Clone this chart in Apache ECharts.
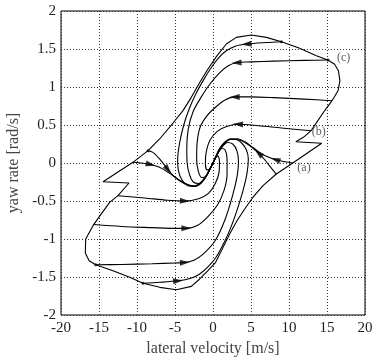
<!DOCTYPE html>
<html><head><meta charset="utf-8">
<script src="https://cdn.jsdelivr.net/npm/echarts@6/dist/echarts.min.js"></script>
<style>html,body{margin:0;padding:0;background:#fff}#c{width:373px;height:358px}</style>
</head><body><div id="c"></div>
<script>
// ---- data (lateral velocity [m/s], yaw rate [rad/s]) ----
const xTickValues = [-20,-15,-10,-5,0,5,10,15,20];
const yTickValues = [-2,-1.5,-1,-0.5,0,0.5,1,1.5,2];

const boundary = [
  [-8.55,0.162],[-7.02,0.316],[-5.26,0.526],[-3.95,0.689],[-2.85,0.864],[-1.75,1.06],[-0.66,1.237],
  [0.44,1.40],[1.75,1.566],[3.07,1.653],[5.04,1.684],[7.02,1.653],[9.0,1.596],[11.4,1.509],[13.6,1.412],
  [15.13,1.355],[16.0,1.30],[16.5,1.215],[16.7,1.083],[16.45,0.95],[15.66,0.82],[14.7,0.69],[13.8,0.557],
  [12.9,0.425],[11.9,0.338],[10.9,0.28],[14.3,0.259],[10.5,0.0],[8.33,-0.145],[6.58,-0.298],[5.26,-0.45],
  [4.17,-0.605],[3.16,-0.76],[2.19,-0.934],[1.23,-1.13],[0.35,-1.307],[-0.66,-1.417],[-1.75,-1.526],
  [-2.85,-1.623],[-4.82,-1.667],[-7.0,-1.636],[-9.2,-1.583],[-10.96,-1.504],[-13.16,-1.417],[-15.44,-1.338],
  [-16.3,-1.285],[-16.8,-1.184],[-16.75,-1.0],[-15.7,-0.81],[-14.7,-0.67],[-13.6,-0.518],[-12.5,-0.43],
  [-11.05,-0.263],[-14.47,-0.246],[-10.53,0.009],[-8.55,0.162]
];

const trajU1 = [[9.0,1.596],[7,1.585],[4.4,1.565],[3.0,1.54],[1.8,1.48],[0.8,1.39],[-0.2,1.26],[-1.2,1.1],[-2.2,0.92],[-3.1,0.72],[-3.85,0.5],[-4.4,0.26],[-4.65,0.05],[-4.55,-0.1],[-4.1,-0.22],[-3.3,-0.3],[-2.4,-0.31],[-1.6,-0.26],[-0.9,-0.17],[-0.35,-0.07],[0,0]];
const trajU2 = [[15.13,1.355],[12,1.35],[8,1.34],[5,1.33],[3.1,1.32],[2.0,1.28],[0.9,1.19],[-0.4,1.04],[-1.6,0.86],[-2.6,0.68],[-3.25,0.45],[-3.45,0.2],[-3.4,0.0],[-3.1,-0.15],[-2.6,-0.25],[-1.9,-0.27],[-1.2,-0.21],[-0.6,-0.12],[-0.15,-0.03],[0,0]];
const trajU3 = [[15.66,0.82],[12,0.84],[8,0.86],[5,0.87],[2.85,0.87],[1.6,0.83],[0.4,0.74],[-0.8,0.62],[-1.7,0.47],[-2.1,0.25],[-2.15,0.05],[-1.95,-0.1],[-1.5,-0.19],[-0.95,-0.18],[-0.45,-0.09],[0,0]];
const trajU4 = [[12.9,0.425],[9,0.46],[6,0.49],[3.3,0.51],[1.8,0.48],[0.6,0.42],[-0.4,0.3],[-0.9,0.14],[-1.0,0.0],[-0.8,-0.09],[-0.4,-0.08],[0,0]];
const trajA1 = [[10.5,0],[8.8,0.03],[7.5,0.07],[6.4,0.12],[5.3,0.2],[4.2,0.28],[3.2,0.32],[2.3,0.32],[1.5,0.27],[0.8,0.18],[0.3,0.07],[0,0]];
const trajA2 = [[8.33,-0.145],[7.7,-0.07],[7.0,0.02],[6.2,0.11],[5.2,0.2],[4.2,0.27],[3.2,0.31],[2.3,0.31],[1.5,0.26],[0.8,0.17],[0.3,0.06],[0,0]];
const trajL1 = [[-9.2,-1.583],[-7,-1.57],[-4.6,-1.55],[-3,-1.52],[-1.75,-1.46],[-0.6,-1.36],[0.4,-1.24],[1.4,-1.06],[2.3,-0.86],[3.1,-0.64],[3.9,-0.38],[4.45,-0.15],[4.65,0.05],[4.4,0.17],[3.8,0.26],[3.0,0.31],[2.2,0.31],[1.5,0.26],[0.85,0.17],[0.35,0.07],[0,0]];
const trajL2 = [[-15.44,-1.338],[-12,-1.335],[-8,-1.325],[-5,-1.315],[-3.7,-1.31],[-2.5,-1.28],[-1.3,-1.2],[0.3,-1.02],[1.6,-0.74],[2.6,-0.42],[3.2,-0.16],[3.35,0.02],[3.15,0.16],[2.6,0.25],[1.9,0.27],[1.2,0.21],[0.6,0.12],[0.15,0.03],[0,0]];
const trajL3 = [[-15.7,-0.81],[-12,-0.835],[-8,-0.85],[-5,-0.86],[-3.5,-0.86],[-2.0,-0.82],[-0.6,-0.7],[0.6,-0.55],[1.45,-0.36],[1.85,-0.15],[1.85,0.05],[1.6,0.17],[1.1,0.19],[0.5,0.1],[0,0]];
const trajL4 = [[-12.5,-0.43],[-9,-0.46],[-6,-0.49],[-3.7,-0.5],[-1.9,-0.47],[-0.6,-0.4],[0.3,-0.27],[0.8,-0.12],[0.85,0.02],[0.65,0.09],[0.3,0.07],[0,0]];
const trajMA1 = [[-10.53,0.009],[-8.8,-0.01],[-7.2,-0.05],[-5.8,-0.13],[-4.5,-0.22],[-3.4,-0.28],[-2.4,-0.31],[-1.6,-0.27],[-0.9,-0.18],[-0.35,-0.07],[0,0]];
const trajMA2 = [[-8.55,0.162],[-7.9,0.14],[-7.0,0.05],[-6.2,-0.05],[-5.3,-0.16],[-4.3,-0.24],[-3.3,-0.29],[-2.4,-0.3],[-1.6,-0.26],[-0.9,-0.17],[-0.35,-0.06],[0,0]];

const arrowPoints = [[4.4,1.565],[3.1,1.32],[2.85,0.87],[3.3,0.51],[8.2,0.045],[6.0,0.13],
                     [-4.6,-1.55],[-3.7,-1.31],[-3.5,-0.86],[-3.7,-0.5],[-8.2,-0.02],[-5.9,-0.09]];
const arrowCurve  = ['U1','U2','U3','U4','A1','A2','L1','L2','L3','L4','MA1','MA2'];

const startDots = [[9.0,1.596],[15.13,1.355],[-8.55,0.162],[-15.44,-1.338],[-9.2,-1.583]];
const caseLabels = ['(c)','(b)','(a)'];
const caseLabelPos = [[16.3,1.39],[13.0,0.41],[11.1,-0.07]];

// ---- chart ----
const curves = {U1:trajU1,U2:trajU2,U3:trajU3,U4:trajU4,A1:trajA1,A2:trajA2,
                L1:trajL1,L2:trajL2,L3:trajL3,L4:trajL4,MA1:trajMA1,MA2:trajMA2};
const serif = 'Liberation Serif';
const chart = echarts.init(document.getElementById('c'), null, {renderer:'canvas'});

const lineSeries = Object.keys(curves).map(k => ({
  id: k, type:'line', data: curves[k], smooth: 0.3, symbol:'none',
  lineStyle:{color:'#000', width:1.1}, z:3, silent:true, animation:false
}));

chart.setOption({
  animation:false,
  grid:{left:61, right:8, top:11, bottom:43, outerBoundsMode:'none', containLabel:false,
    show:true, borderColor:'#000', borderWidth:1, backgroundColor:'transparent'},
  xAxis:{type:'value', min:-20, max:20, interval:5,
    name:'lateral velocity [m/s]', nameLocation:'middle', nameGap:21,
    nameTextStyle:{fontFamily:serif, fontSize:16, color:'#444'},
    axisLine:{show:false}, axisTick:{show:false},
    axisLabel:{fontFamily:serif, fontSize:15, color:'#222', margin:6, showMinLabel:true, showMaxLabel:true},
    splitLine:{show:true, lineStyle:{color:'#333', type:[1,2], width:1}}},
  yAxis:{type:'value', min:-2, max:2, interval:0.5,
    name:'yaw rate [rad/s]', nameLocation:'middle', nameGap:31,
    nameTextStyle:{fontFamily:serif, fontSize:16, color:'#444'},
    axisLine:{show:false}, axisTick:{show:false},
    axisLabel:{fontFamily:serif, fontSize:15, color:'#222', margin:5, showMinLabel:true, showMaxLabel:true},
    splitLine:{show:true, lineStyle:{color:'#333', type:[1,2], width:1}}},
  series:[
    {id:'boundary', type:'line', data: boundary, symbol:'none', smooth:false,
      lineStyle:{color:'#000', width:1.1}, z:3, silent:true},
    ...lineSeries,
    {id:'arrows', type:'scatter', data:[], symbol:'triangle', symbolSize:[6,10],
      itemStyle:{color:'#000'}, z:5, silent:true},
    {id:'dots', type:'scatter', data:startDots, symbol:'circle', symbolSize:3,
      itemStyle:{color:'#000'}, z:5, silent:true},
    {id:'labels', type:'scatter', symbolSize:0,
      data: caseLabels.map((t,i)=>({name:t, value:caseLabelPos[i]})),
      label:{show:true, formatter:p=>p.name, position:'inside', align:'left', verticalAlign:'middle',
        fontFamily:serif, fontSize:12, color:'#333'}, z:6, silent:true}
  ]
});

function px(p){ return chart.convertToPixel({gridIndex:0}, p); }
const arrowData = arrowPoints.map((p,i)=>{
  const c = curves[arrowCurve[i]];
  const pp = px(p);
  let best = null, bd = Infinity;
  for (let k=0;k<c.length-1;k++){
    const a = px(c[k]), b = px(c[k+1]);
    const dx=b[0]-a[0], dy=b[1]-a[1];
    const L = dx*dx+dy*dy || 1;
    let t = ((pp[0]-a[0])*dx+(pp[1]-a[1])*dy)/L; t=Math.max(0,Math.min(1,t));
    const qx=a[0]+t*dx-pp[0], qy=a[1]+t*dy-pp[1];
    const d=qx*qx+qy*qy;
    if (d<bd){bd=d; best=[dx,dy];}
  }
  const ang = Math.atan2(-best[1], best[0])*180/Math.PI;
  return {value:p, symbolRotate: ang-90};
});
chart.setOption({series:[{id:'arrows', data:arrowData}]});
</script></body></html>
